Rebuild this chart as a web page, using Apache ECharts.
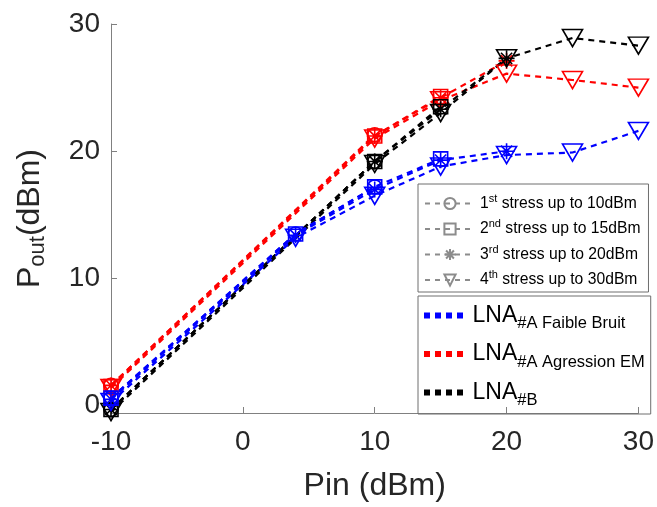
<!DOCTYPE html>
<html>
<head>
<meta charset="utf-8">
<script src="https://cdn.jsdelivr.net/npm/echarts@6/dist/echarts.min.js"></script>
<style>html,body{margin:0;padding:0;background:#fff;}#c{width:657px;height:507px;}</style>
</head>
<body>
<div id="c"></div>
<script>
// ---- data ----
const PIN = [-10, 4, 10, 15, 20, 25, 30];
// LNA #A Faible Bruit (blue)
const blueS1 = [0.6, 13.5, 17.2, null, null, null, null];
const blueS2 = [0.6, 13.5, 17.2, 19.4, null, null, null];
const blueS3 = [0.5, 13.4, 17.0, 19.3, 20.0, null, null];
const blueS4 = [0.3, 13.2, 16.5, 18.8, 19.7, 19.9, 21.6];
// LNA #A Agression EM (red)
const redS1 = [1.6, null, 21.3, null, null, null, null];
const redS2 = [1.5, null, 21.2, 24.3, null, null, null];
const redS3 = [1.6, null, 21.2, 24.2, 27.1, null, null];
const redS4 = [1.4, null, 21.0, 24.0, 26.1, 25.6, 25.0];
// LNA #B (black)
const blackS1 = [-0.3, null, 19.2, null, null, null, null];
const blackS2 = [-0.3, null, 19.2, 23.5, null, null, null];
const blackS3 = [-0.3, null, 19.2, 23.3, 27.3, null, null];
const blackS4 = [-0.5, null, 19.0, 23.0, 27.3, 28.9, 28.3];

const xTicks = [-10, 0, 10, 20, 30];
const yTicks = [0, 10, 20, 30];

const stressNames = ['s1', 's2', 's3', 's4'];
const stressLabels = {
  s1: ['1', 'st', ' stress up to 10dBm'],
  s2: ['2', 'nd', ' stress up to 15dBm'],
  s3: ['3', 'rd', ' stress up to 20dBm'],
  s4: ['4', 'th', ' stress up to 30dBm']
};
const lnaNames = ['A1', 'A2', 'B'];
const lnaLabels = { A1: ['LNA', '#A Faible Bruit'], A2: ['LNA', '#A Agression EM'], B: ['LNA', '#B'] };

// ---- styles ----
const SYM = {
  s1: 'circle',
  s2: 'rect',
  s3: 'path://M0,-10L0,10M-10,0L10,0M-7,-7L7,7M-7,7L7,-7',
  s4: 'path://M-10,-8L10,-8L0,9Z'
};
const SYMSIZE = { s1: 14, s2: 14, s3: 16, s4: [20, 17] };
const COLORS = { A1: '#0000ff', A2: '#ff0000', B: '#000000' };

function pairs(vals) {
  return PIN.map((x, i) => [x, vals[i]]).filter(d => d[1] !== null);
}
function mk(lna, stress, vals) {
  const c = COLORS[lna];
  return {
    name: lna, type: 'line', data: pairs(vals),
    symbol: SYM[stress], symbolSize: SYMSIZE[stress], symbolKeepAspect: false,
    lineStyle: { color: c, width: 2.2, type: [6, 5] },
    itemStyle: { color: 'rgba(0,0,0,0)', borderColor: c, borderWidth: 1.6 },
    emphasis: { disabled: true }, silent: true, z: 2
  };
}
const series = [
  mk('A2', 's1', redS1), mk('A2', 's2', redS2), mk('A2', 's3', redS3), mk('A2', 's4', redS4),
  mk('B', 's1', blackS1), mk('B', 's2', blackS2), mk('B', 's3', blackS3), mk('B', 's4', blackS4),
  mk('A1', 's1', blueS1), mk('A1', 's2', blueS2), mk('A1', 's3', blueS3), mk('A1', 's4', blueS4)
];
stressNames.forEach(s => {
  series.push({
    name: s, type: 'line', data: [],
    symbol: SYM[s], symbolSize: 10,
    lineStyle: { color: '#8c8c8c', width: 2, type: [5, 5] },
    itemStyle: { color: 'rgba(0,0,0,0)', borderColor: '#8c8c8c', borderWidth: 1.6 }
  });
});

const FONT = 'Liberation Sans, Arial, Helvetica, sans-serif';
const chart = echarts.init(document.getElementById('c'), null, { renderer: 'canvas' });
chart.setOption({
  animation: false,
  backgroundColor: '#fff',
  grid: { left: 111, right: 15, top: 24, bottom: 89, containLabel: false },
  xAxis: {
    type: 'value', min: -10, max: 30, interval: 10,
    name: 'Pin (dBm)', nameLocation: 'middle', nameGap: 57,
    nameTextStyle: { fontSize: 32, color: '#262626', fontFamily: FONT },
    axisLine: { show: true, onZero: false, lineStyle: { color: '#808080', width: 1 } },
    axisTick: { show: true, inside: true, length: 6, lineStyle: { color: '#808080' } },
    axisLabel: { fontSize: 28, color: '#262626', fontFamily: FONT, margin: 15 },
    splitLine: { show: false }
  },
  yAxis: {
    type: 'value', min: -0.57, max: 30,
    name: 'P{sub|out}(dBm)', nameLocation: 'middle', nameGap: 62, nameRotate: 90,
    nameTextStyle: { fontSize: 32, color: '#262626', fontFamily: FONT,
      rich: { sub: { fontSize: 22, color: '#262626', fontFamily: FONT, padding: [15, 0, 0, 0] } } },
    axisLine: { show: true, onZero: false, lineStyle: { color: '#808080', width: 1 } },
    axisTick: { show: true, inside: true, length: 6, customValues: yTicks, lineStyle: { color: '#808080' } },
    axisLabel: { fontSize: 28, color: '#262626', fontFamily: FONT, margin: 11, customValues: yTicks },
    splitLine: { show: false }
  },
  legend: [
    {
      data: stressNames, orient: 'vertical', left: 418, top: 184,
      padding: [9, 8, 4, 6], itemGap: 7, itemWidth: 50, itemHeight: 14,
      borderColor: '#6e6e6e', borderWidth: 1, selectedMode: false,
      formatter: n => '{n|' + stressLabels[n][0] + '}{sup|' + stressLabels[n][1] + '}{n|' + stressLabels[n][2] + '}',
      textStyle: {
        fontFamily: FONT, color: '#000',
        rich: {
          n: { fontSize: 15.7, fontFamily: FONT, color: '#000' },
          sup: { fontSize: 11, fontFamily: FONT, color: '#000', padding: [0, 0, 10, 0] }
        }
      }
    },
    {
      data: lnaNames.map(n => ({
        name: n,
        icon: 'path://M0,0h6v6h-6zM11,0h6v6h-6zM22,0h6v6h-6zM33,0h6v6h-6z',
        itemStyle: { color: COLORS[n], borderWidth: 0 }
      })),
      orient: 'vertical', left: 418, top: 296,
      padding: [8, 6, 5, 6], itemGap: 10.5, itemWidth: 40, itemHeight: 6,
      borderColor: '#6e6e6e', borderWidth: 1, selectedMode: false,
      formatter: n => '{g|}{n|' + lnaLabels[n][0] + '}{sub|' + lnaLabels[n][1] + '}',
      textStyle: {
        fontFamily: FONT, color: '#000',
        rich: {
          g: { width: 4 },
          n: { fontSize: 23, fontFamily: FONT, color: '#000' },
          sub: { fontSize: 16.5, fontFamily: FONT, color: '#000', padding: [16, 0, 0, 0] }
        }
      }
    }
  ],
  series: series
});
</script>
</body>
</html>
